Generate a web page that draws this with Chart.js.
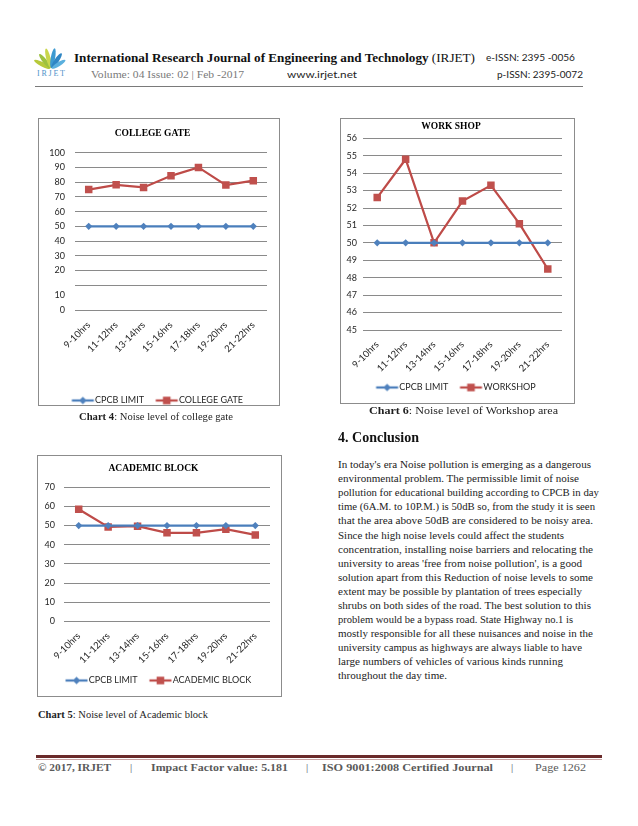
<!DOCTYPE html>
<html><head><meta charset="utf-8">
<script src="https://cdn.jsdelivr.net/npm/chart.js@4.4.1/dist/chart.umd.min.js"></script>
<style>
html,body{margin:0;padding:0;background:#fff}
body{position:relative;width:638px;height:826px;overflow:hidden}
.t{position:absolute;white-space:nowrap;line-height:1;transform-origin:0 50%;font-family:'Liberation Serif',serif;color:#1e1e1e}
.box{position:absolute;border:1px solid #8c8c8c;box-sizing:border-box;background:#fff}
.rule{position:absolute}
canvas{position:absolute}
</style></head><body>

<svg style="position:absolute;left:34px;top:42px" width="36" height="36" viewBox="0 0 36 36">
  <g transform="translate(17,27)">
    <ellipse cx="0" cy="-10" rx="2.2" ry="9" fill="#b7c93a" transform="rotate(-62)"/>
    <ellipse cx="0" cy="-10" rx="2.2" ry="9" fill="#9dc13e" transform="rotate(-38)"/>
    <ellipse cx="0" cy="-11" rx="2.2" ry="10" fill="#c9d64a" transform="rotate(-14)"/>
    <ellipse cx="0" cy="-11" rx="2.2" ry="10" fill="#3d9ad1" transform="rotate(10)"/>
    <ellipse cx="0" cy="-10" rx="2.2" ry="9" fill="#2f86c4" transform="rotate(34)"/>
    <ellipse cx="0" cy="-9" rx="2" ry="8" fill="#5bb0de" transform="rotate(58)"/>
  </g>
  <text x="3" y="34" font-family="Liberation Serif" font-size="8" fill="#4f93c9" textLength="28">IRJET</text>
</svg>

<div class="rule" style="left:35px;top:86px;width:548px;height:1px;background:#7a7a7a"></div>

<div class="box" style="left:38px;top:118px;width:242px;height:288px"></div>
<div class="box" style="left:340px;top:118px;width:235px;height:286px"></div>
<div class="box" style="left:37px;top:455px;width:245px;height:242px"></div>

<canvas id="c4"></canvas>
<canvas id="c6"></canvas>
<canvas id="c5"></canvas>

<div class="rule" style="left:36px;top:755px;width:566px;height:3px;background:#6a2a2a"></div>
<div class="rule" style="left:36px;top:759px;width:566px;height:1px;background:#c8a4a4"></div>

<script>
// ---------------- data ----------------
const hours = ['9-10hrs','11-12hrs','13-14hrs','15-16hrs','17-18hrs','19-20hrs','21-22hrs'];
const cpcbLimit = [50, 50, 50, 50, 50, 50, 50];
const collegeGate = [75, 78.2, 76.4, 84.3, 90, 78, 81];
const workshop = [52.6, 54.8, 50, 52.4, 53.3, 51.1, 48.5];
const academicBlock = [58.5, 49.3, 49.7, 46.2, 46.2, 48.1, 45.1];

// College gate axis (as printed: irregular labels)
const gateTickValues = [-7, 3, 10, 20, 30, 40, 50, 60, 70, 80, 90, 100];
const gateTickLabels = ['0', '10', '', '20', '30', '40', '50', '60', '70', '80', '90', '100'];
const gateNoGrid = [3];
const workshopMin = 45, workshopMax = 56, workshopStep = 1;
const academicMin = 0, academicMax = 70, academicStep = 10;

const seriesNames = {limit: 'CPCB LIMIT', gate: 'COLLEGE GATE', shop: 'WORKSHOP', academic: 'ACADEMIC BLOCK'};
const chartTitles = {gate: 'COLLEGE GATE', shop: 'WORK SHOP', academic: 'ACADEMIC BLOCK'};

// ---------------- styles ----------------
const BLUE_LINE = '#4a7ebb', BLUE_FILL = '#4f81bd';
const RED_LINE = '#be4b48', RED_FILL = '#c0504d';
const GRID = '#8a8a8a';
const SANS = 'Lato';

// legend geometry
const LFS = 9, LPAD = 2, GAP = 10, BOXW = GAP + 18.5;

function legendIcon(lineColor, fill, shape) {
  const c = document.createElement('canvas');
  c.width = Math.round(BOXW + LFS); c.height = 12;
  const x = c.getContext('2d');
  const x0 = GAP + LFS / 2, x1 = x0 + 22, cx = (x0 + x1) / 2;
  x.strokeStyle = lineColor; x.lineWidth = 2.25;
  x.beginPath(); x.moveTo(x0, 6); x.lineTo(x1, 6); x.stroke();
  x.fillStyle = fill;
  x.beginPath();
  if (shape === 'diamond') { x.moveTo(cx, 2.2); x.lineTo(cx + 3.8, 6); x.lineTo(cx, 9.8); x.lineTo(cx - 3.8, 6); x.closePath(); }
  else { x.rect(cx - 3.8, 2.2, 7.6, 7.6); }
  x.fill();
  return c;
}

function makeChart(id, g, title, datasets, yopts) {
  const tfs = 9.5, xfs = 9.5;
  const legendTop = g.legendY - (LPAD + LFS / 2);
  const canvasBottom = legendTop + LFS + LPAD + 10;
  const W = g.box.r - g.box.l, H = Math.round(canvasBottom - g.box.t);
  const cv = document.getElementById(id);
  cv.style.left = g.box.l + 'px'; cv.style.top = g.box.t + 'px';
  cv.width = W; cv.height = H; cv.style.width = W + 'px'; cv.style.height = H + 'px';
  const tpt = g.titleY - g.box.t - tfs * 0.6;
  const tpb = g.area.t - g.box.t - tpt - tfs * 1.2;
  const legTop = (g.box.t + H) - (LFS + LPAD + 10);
  const icons = datasets.map(d => legendIcon(d.borderColor, d.backgroundColor, d.pointStyle === 'rectRot' ? 'diamond' : 'square'));
  return new Chart(cv, {
    type: 'line',
    data: {labels: hours, datasets},
    options: {
      responsive: false, animation: false, devicePixelRatio: 1,
      layout: {padding: {left: 0, right: g.box.r - g.area.r, top: 0, bottom: 0}},
      plugins: {
        title: {display: true, text: title, color: '#000',
          font: {family: 'Liberation Serif', size: tfs, weight: 'bold'},
          padding: {top: tpt, bottom: tpb}},
        legend: {position: 'bottom',
          labels: {font: {family: SANS, size: LFS}, color: '#262626', padding: LPAD,
            usePointStyle: true, pointStyleWidth: BOXW,
            generateLabels: (chart) => {
              const items = Chart.defaults.plugins.legend.labels.generateLabels(chart);
              items.forEach((it, i) => { it.pointStyle = icons[i]; });
              return items;
            }}},
        tooltip: {enabled: false}
      },
      scales: {
        x: {offset: true, grid: {display: false}, border: {display: false},
          ticks: {font: {family: SANS, size: xfs}, color: '#262626', minRotation: 45, maxRotation: 45, padding: 1, autoSkip: false},
          afterFit: s => { s.height = legTop - g.area.b; }},
        y: Object.assign({grid: {color: GRID, lineWidth: 1, drawTicks: false}, border: {display: false},
          afterFit: s => { s.width = g.area.l - g.box.l; }}, yopts)
      }
    }
  });
}

function limitSet() {
  return {label: seriesNames.limit, data: cpcbLimit, borderColor: BLUE_LINE, backgroundColor: BLUE_FILL,
    borderWidth: 2.25, pointStyle: 'rectRot', pointRadius: 3.6, pointBorderWidth: 0, pointBackgroundColor: BLUE_FILL, tension: 0};
}
function redSet(name, data) {
  return {label: name, data, borderColor: RED_LINE, backgroundColor: RED_FILL,
    borderWidth: 2.25, pointStyle: 'rect', pointRadius: 5.3, pointBorderWidth: 0, pointBackgroundColor: RED_FILL, tension: 0};
}

// Chart 4: College gate
makeChart('c4',
  {box: {l: 38, t: 118, r: 279}, area: {l: 75, r: 267, t: 152.7, b: 310.3}, titleY: 134, legendY: 400.7},
  chartTitles.gate, [limitSet(), redSet(seriesNames.gate, collegeGate)],
  {min: gateTickValues[0], max: gateTickValues[gateTickValues.length - 1],
   afterBuildTicks: s => { s.ticks = gateTickValues.map(v => ({value: v})); },
   ticks: {font: {family: SANS, size: 9}, color: '#262626', padding: 10,
     callback: (v, i) => gateTickLabels[i]},
   grid: {drawTicks: false, lineWidth: 1,
     color: c => (c.tick && gateNoGrid.includes(c.tick.value)) ? 'rgba(0,0,0,0)' : GRID}});

// Chart 6: Workshop
makeChart('c6',
  {box: {l: 340, t: 118, r: 574}, area: {l: 363, r: 562, t: 138.3, b: 330}, titleY: 127, legendY: 387.7},
  chartTitles.shop, [limitSet(), redSet(seriesNames.shop, workshop)],
  {min: workshopMin, max: workshopMax, ticks: {stepSize: workshopStep, font: {family: SANS, size: 9}, color: '#262626', padding: 6}});

// Chart 5: Academic block
makeChart('c5',
  {box: {l: 37, t: 455, r: 281}, area: {l: 64, r: 270, t: 487.3, b: 621.3}, titleY: 469, legendY: 680},
  chartTitles.academic, [limitSet(), redSet(seriesNames.academic, academicBlock)],
  {min: academicMin, max: academicMax, ticks: {stepSize: academicStep, font: {family: SANS, size: 9}, color: '#262626', padding: 9}});

// ---------------- page text ----------------
function put(html, x, yc, fs, w, extra) {
  const d = document.createElement('div');
  d.className = 't';
  d.innerHTML = html;
  d.style.left = x + 'px';
  d.style.fontSize = fs + 'px';
  if (extra) Object.assign(d.style, extra);
  document.body.appendChild(d);
  const ratio = (extra && extra.fontFamily && extra.fontFamily.indexOf('Lato') >= 0) ? 0.56 : 0.54;
  d.style.top = (yc - ratio * fs) + 'px';
  if (w) {
    const nat = d.getBoundingClientRect().width;
    d.style.transform = 'scaleX(' + (w / nat) + ')';
  }
  return d;
}

const sansStyle = {fontFamily: 'Lato, sans-serif'};
// header
put('<b>International Research Journal of Engineering and Technology</b> (IRJET)', 74, 58, 13.5, 401, {color: '#111'});
put('e-ISSN: 2395 -0056', 486, 58, 10, 89, Object.assign({color: '#222'}, sansStyle));
put('Volume: 04 Issue: 02 | Feb -2017', 91, 75, 10, 153, {color: '#7a7a7a'});
put('www.irjet.net', 287, 75, 10, 70, Object.assign({color: '#222'}, sansStyle));
put('p-ISSN: 2395-0072', 497, 75, 10, 86, Object.assign({color: '#222'}, sansStyle));

// captions
put('<b>Chart 4</b>: Noise level of college gate', 79, 417.7, 10.5, 154);
put('<b>Chart 6</b>: Noise level of Workshop area', 369, 411.7, 10.5, 189);
put('<b>Chart 5</b>: Noise level of Academic block', 38, 715.7, 10.5, 170);

// conclusion
put('<b>4. Conclusion</b>', 338, 438.3, 14.5, 81, {color: '#111'});
const bodyLines = [
  ["In today's era Noise pollution is emerging as a dangerous", 253],
  ['environmental problem. The permissible limit of noise', 241],
  ['pollution for educational building according to CPCB in day', 261],
  ['time (6A.M. to 10P.M.) is 50dB so, from the study it is seen', 257],
  ['that the area above 50dB are considered to be noisy area.', 255],
  ['Since the high noise levels could affect the students', 226],
  ['concentration, installing noise barriers and relocating the', 255],
  ["university to areas 'free from noise pollution', is a good", 244],
  ['solution apart from this Reduction of noise levels to some', 255],
  ['extent may be possible by plantation of trees especially', 244],
  ['shrubs on both sides of the road. The best solution to this', 253],
  ['problem would be a bypass road. State Highway no.1 is', 235],
  ['mostly responsible for all these nuisances and noise in the', 255],
  ['university campus as highways are always liable to have', 244],
  ['large numbers of vehicles of various kinds running', 225],
  ['throughout the day time.', 109]
];
bodyLines.forEach((ln, i) => put(ln[0], 338, 466 + i * 14.04, 10.5, ln[1], {color: '#222'}));

// footer
const fcol = {color: '#5a5a5a'};
put('<b>© 2017, IRJET</b>', 38, 767.7, 11, 73, fcol);
put('|', 130, 767.7, 11, 0, fcol);
put('<b>Impact Factor value: 5.181</b>', 151, 767.7, 11, 137, fcol);
put('|', 306, 767.7, 11, 0, fcol);
put('<b>ISO 9001:2008 Certified Journal</b>', 322, 767.7, 11, 171, fcol);
put('|', 511, 767.7, 11, 0, fcol);
put('Page 1262', 535, 767.7, 11, 51, fcol);
</script>
</body></html>
